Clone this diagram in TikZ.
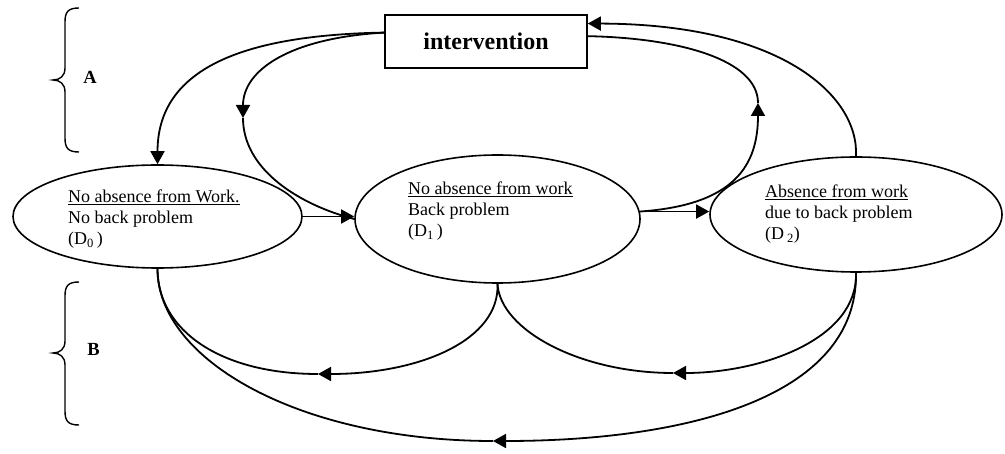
\documentclass[tikz,border=0pt]{standalone}
\usepackage{fontspec}
\setmainfont{Liberation Serif}
\usetikzlibrary{shapes.geometric,arrows.meta,calc}
\begin{document}
\begin{tikzpicture}[x=1pt,y=-1pt,
  conn/.style={line width=1.8pt},
  tip/.style={-{Triangle[length=13pt,width=14pt]}},
  state/.style={ellipse,draw,line width=1.6pt,inner sep=0pt},
  txt/.style={anchor=base west,inner sep=0pt,font=\fontsize{18}{21}\selectfont},
  lab/.style={inner sep=0pt,font=\fontsize{18.5}{20}\selectfont\bfseries},
  brace/.style={line width=1.4pt}]
\useasboundingbox (0,0) rectangle (1005,454);

% intervention box
\node[draw,line width=1.6pt,minimum width=202pt,minimum height=53pt,inner sep=0pt,
      font=\fontsize{24}{28}\selectfont\bfseries] (box) at (486,41.5) {intervention};

% states
\node[state,minimum width=289pt,minimum height=103pt] (D0) at (157.5,216.5) {};
\node[state,minimum width=285pt,minimum height=128pt] (D1) at (497.5,219) {};
\node[state,minimum width=292pt,minimum height=115pt] (D2) at (856,214.5) {};

\node[txt] (t0) at (68,203) {\begin{tabular}[t]{@{}l@{}}\underline{No absence from Work.}\\ No back problem\\ (D\textsubscript{0}\,)\end{tabular}};
\node[txt] (t1) at (408,195) {\begin{tabular}[t]{@{}l@{}}\underline{No absence from work}\\ Back problem\\ (D\textsubscript{1}\,)\end{tabular}};
\node[txt] (t2) at (765,198) {\begin{tabular}[t]{@{}l@{}}\underline{Absence from work}\\ due to back problem\\ (D\,\textsubscript{2})\end{tabular}};

% labels and braces
\node[lab] (A) at (90,77) {A};
\node[lab] (B) at (93.5,349) {B};
\draw[brace] (79,8) .. controls (68,8) and (65,12) .. (65,22) -- (65,68)
  .. controls (65,76) and (60,80) .. (53,80) .. controls (60,80) and (65,84) .. (65,92)
  -- (65,138) .. controls (65,148) and (68,152) .. (79,152);
\draw[brace] (79,282) .. controls (68,282) and (65,286) .. (65,296) -- (65,341)
  .. controls (65,349) and (60,353) .. (53,353) .. controls (60,353) and (65,357) .. (65,365)
  -- (65,411) .. controls (65,421) and (68,425) .. (79,425);

% helper coordinates
\coordinate (m4) at (243,118);
\coordinate (m5) at (758,103);
\coordinate (m7) at (318,374);
\coordinate (m8) at (673,373);
\coordinate (m9) at (493,441);

% straight transitions
\draw[conn,tip] (D0.east) -- (D0.east -| D1.west);
\draw[conn,tip] (D1.3) -- (D1.3 -| D2.west);

% intervention -> D0
\draw[conn,tip] (box.175) .. controls (240,35) and (157.5,70) .. (D0.north);
% intervention -> D1
\draw[conn,tip] (box.175) .. controls (290,38) and (243,70) .. (m4);
\draw[conn] (m4) .. controls (243,170) and (300,205) .. (D1.west);
% D1 -> intervention
\draw[conn,tip] (D1.3) .. controls (735,205) and (758,165) .. (m5);
\draw[conn] (m5) .. controls (758,60) and (680,38) .. (box.3);
% D2 -> intervention
\draw[conn,tip] (D2.north) .. controls (859,95) and (780,24) .. (box.10);

% bottom returns
\draw[conn,tip] (D1.south) .. controls (500,340) and (420,374) .. (m7);
\draw[conn] (m7) .. controls (220,374) and (157.5,330) .. (D0.south);
\draw[conn,tip] (D2.south) .. controls (858,340) and (760,373) .. (m8);
\draw[conn] (m8) .. controls (580,373) and (500,330) .. (D1.south);
\draw[conn,tip] (D2.south) .. controls (858,400) and (680,441) .. (m9);
\draw[conn] (m9) .. controls (300,441) and (157.5,360) .. (D0.south);
\end{tikzpicture}
\end{document}
